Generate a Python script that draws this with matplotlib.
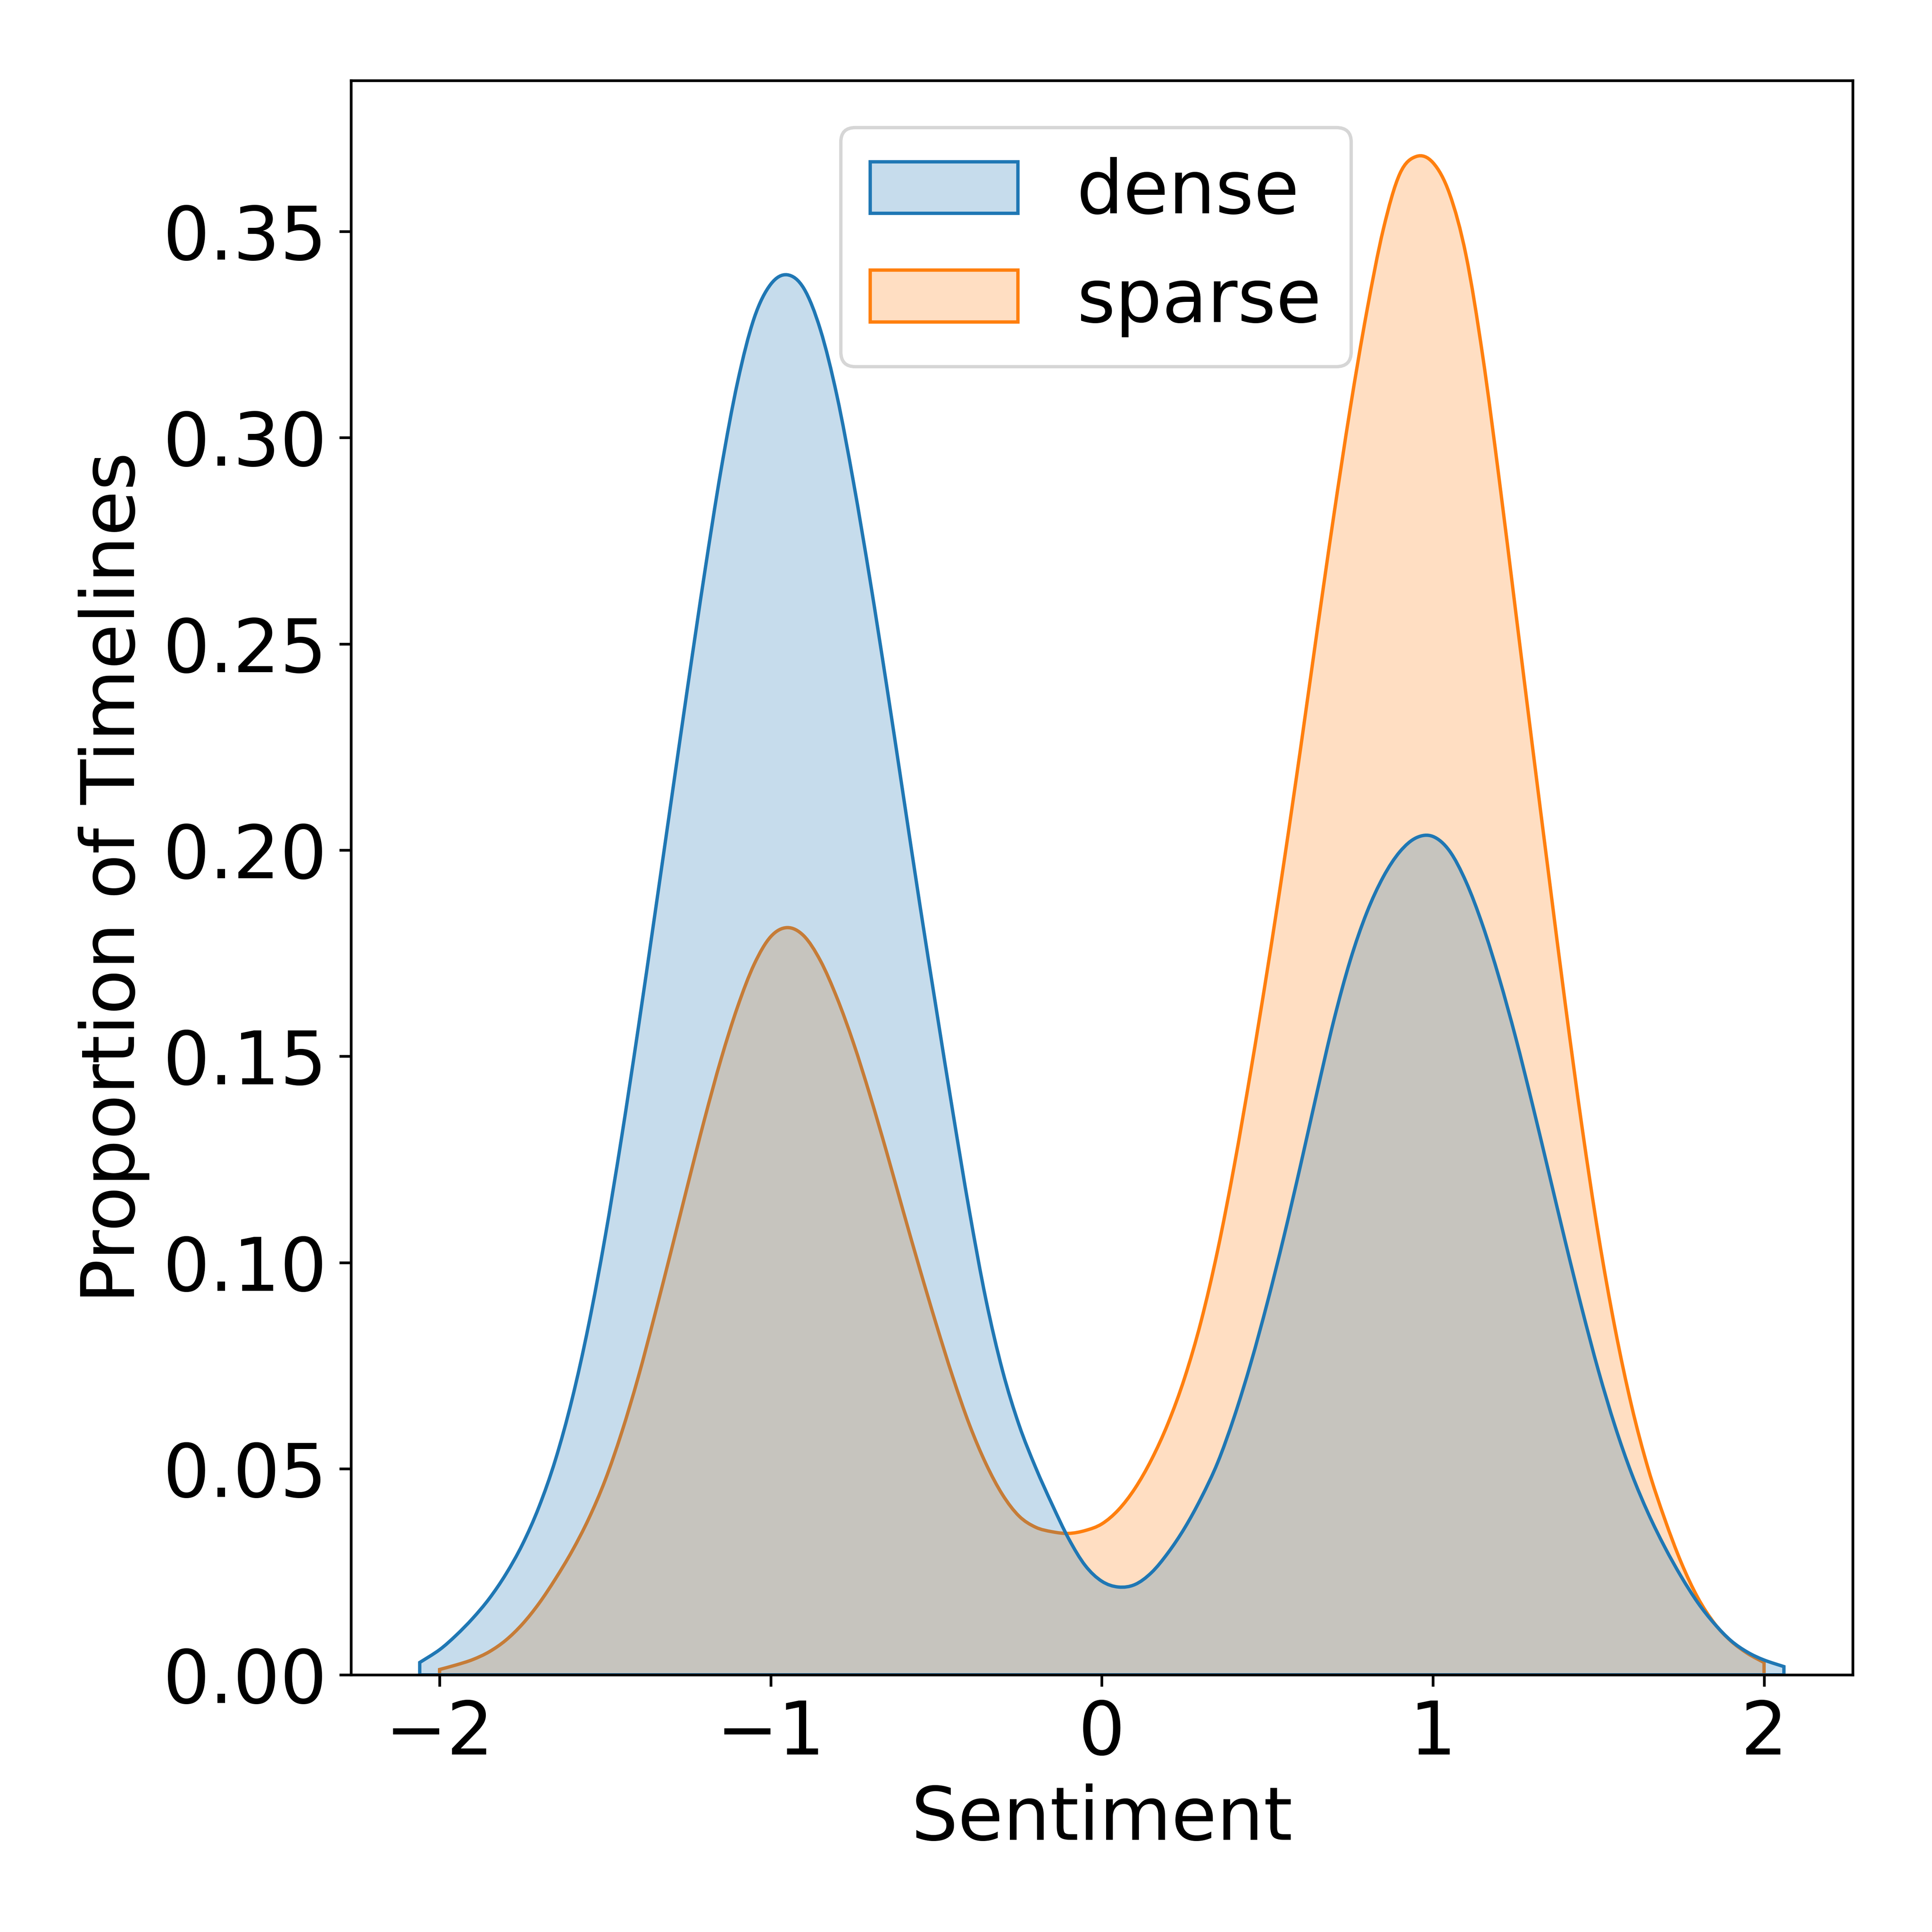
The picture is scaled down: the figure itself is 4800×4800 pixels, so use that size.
import matplotlib
matplotlib.use("Agg")
import matplotlib.pyplot as plt
from matplotlib.patches import Patch, PathPatch
from matplotlib.path import Path

# ── データ (図から読み取った密度曲線) ─────────────────────
DENSE_X = [-2.06, -2.00, -1.95, -1.90, -1.85, -1.80, -1.75, -1.70, -1.65, -1.60,
           -1.55, -1.50, -1.45, -1.40, -1.35, -1.30, -1.25, -1.20, -1.15, -1.10,
           -1.05, -1.00, -0.95, -0.90, -0.85, -0.80, -0.75, -0.70, -0.65, -0.60,
           -0.55, -0.50, -0.45, -0.40, -0.35, -0.30, -0.25, -0.20, -0.15, -0.10,
           -0.05, 0.00, 0.05, 0.10, 0.15, 0.20, 0.25, 0.30, 0.35, 0.40,
           0.45, 0.50, 0.55, 0.60, 0.65, 0.70, 0.75, 0.80, 0.85, 0.90,
           0.95, 1.00, 1.05, 1.10, 1.15, 1.20, 1.25, 1.30, 1.35, 1.40,
           1.45, 1.50, 1.55, 1.60, 1.65, 1.70, 1.75, 1.80, 1.85, 1.90,
           1.95, 2.00, 2.06]
DENSE_Y = [0.0030, 0.0061, 0.0096, 0.0137, 0.0185, 0.0244, 0.0316, 0.0407, 0.0522, 0.0668,
           0.0848, 0.1062, 0.1305, 0.1568, 0.1843, 0.2122, 0.2400, 0.2670, 0.2922, 0.3135,
           0.3290, 0.3372, 0.3395, 0.3362, 0.3262, 0.3102, 0.2892, 0.2655, 0.2400, 0.2135,
           0.1870, 0.1615, 0.1365, 0.1125, 0.0910, 0.0738, 0.0606, 0.0503, 0.0413, 0.0330,
           0.0265, 0.0227, 0.0213, 0.0219, 0.0248, 0.0296, 0.0356, 0.0429, 0.0515, 0.0626,
           0.0756, 0.0903, 0.1063, 0.1235, 0.1413, 0.1585, 0.1732, 0.1848, 0.1935, 0.1996,
           0.2030, 0.2033, 0.1998, 0.1923, 0.1818, 0.1690, 0.1545, 0.1385, 0.1218, 0.1050,
           0.0888, 0.0737, 0.0603, 0.0488, 0.0392, 0.0310, 0.0238, 0.0175, 0.0124, 0.0083,
           0.0055, 0.0036, 0.0020]

SPARSE_X = [-2.00, -1.95, -1.90, -1.85, -1.80, -1.75, -1.70, -1.65, -1.60,
            -1.55, -1.50, -1.45, -1.40, -1.35, -1.30, -1.25, -1.20, -1.15, -1.10,
            -1.05, -1.00, -0.95, -0.90, -0.85, -0.80, -0.75, -0.70, -0.65, -0.60,
            -0.55, -0.50, -0.45, -0.40, -0.35, -0.30, -0.25, -0.20, -0.15, -0.10,
            -0.05, 0.00, 0.05, 0.10, 0.15, 0.20, 0.25, 0.30, 0.35, 0.40,
            0.45, 0.50, 0.55, 0.60, 0.65, 0.70, 0.75, 0.80, 0.85, 0.90,
            0.95, 1.00, 1.05, 1.10, 1.15, 1.20, 1.25, 1.30, 1.35, 1.40,
            1.45, 1.50, 1.55, 1.60, 1.65, 1.70, 1.75, 1.80, 1.85, 1.90,
            1.95, 2.00]
SPARSE_Y = [0.0013, 0.0024, 0.0037, 0.0056, 0.0084, 0.0123, 0.0173, 0.0233, 0.0300,
            0.0378, 0.0472, 0.0588, 0.0722, 0.0873, 0.1030, 0.1190, 0.1347, 0.1493, 0.1620,
            0.1723, 0.1790, 0.1812, 0.1792, 0.1732, 0.1642, 0.1532, 0.1405, 0.1268, 0.1125,
            0.0985, 0.0850, 0.0722, 0.0607, 0.0512, 0.0437, 0.0385, 0.0358, 0.0347, 0.0343,
            0.0350, 0.0366, 0.0400, 0.0452, 0.0522, 0.0610, 0.0720, 0.0858, 0.1030, 0.1235,
            0.1465, 0.1710, 0.1970, 0.2245, 0.2530, 0.2808, 0.3070, 0.3305, 0.3505, 0.3640,
            0.3682, 0.3667, 0.3592, 0.3442, 0.3200, 0.2900, 0.2578, 0.2255, 0.1938, 0.1625,
            0.1330, 0.1065, 0.0840, 0.0652, 0.0500, 0.0378, 0.0272, 0.0187, 0.0125, 0.0082,
            0.0052, 0.0030]

LABELS = ['dense', 'sparse']
COLORS = ['#1f77b4', '#ff7f0e']
FILLS = [(0.122, 0.467, 0.706, 0.25), (1.0, 0.498, 0.055, 0.25)]


def density_patch(xs, ys, face, edge):
    """読み取り点を滑らかに結んだ塗りつぶし領域 (ベジェ曲線)"""
    pts = list(zip(xs, ys))
    n = len(pts)
    verts = [(xs[0], 0.0), pts[0]]
    codes = [Path.MOVETO, Path.LINETO]
    for i in range(n - 1):
        p0 = pts[i - 1] if i > 0 else pts[i]
        p1, p2 = pts[i], pts[i + 1]
        p3 = pts[i + 2] if i + 2 < n else pts[i + 1]
        c1 = (p1[0] + (p2[0] - p0[0]) / 6, p1[1] + (p2[1] - p0[1]) / 6)
        c2 = (p2[0] - (p3[0] - p1[0]) / 6, p2[1] - (p3[1] - p1[1]) / 6)
        verts += [c1, c2, p2]
        codes += [Path.CURVE4] * 3
    verts += [(xs[-1], 0.0), (xs[0], 0.0)]
    codes += [Path.LINETO, Path.CLOSEPOLY]
    return PathPatch(Path(verts, codes), facecolor=face, edgecolor=edge, linewidth=1.0)


# ── 描画 ────────────────────────────────────────────────
plt.rcParams['font.size'] = 22

fig, ax = plt.subplots(figsize=(8, 8), dpi=600)
fig.subplots_adjust(left=0.1816, right=0.959, bottom=0.1331, top=0.9583)

# sparse を先に、dense を上に重ねる
ax.add_patch(density_patch(SPARSE_X, SPARSE_Y, FILLS[1], COLORS[1]))
ax.add_patch(density_patch(DENSE_X, DENSE_Y, FILLS[0], COLORS[0]))

ax.set_xlim(-2.268, 2.268)
ax.set_ylim(0, 0.3866)
ax.set_xticks([-2, -1, 0, 1, 2])
ax.set_xlabel('Sentiment')
ax.set_ylabel('Proportion of Timelines')

handles = [Patch(facecolor=FILLS[0], edgecolor=COLORS[0], linewidth=1.0),
           Patch(facecolor=FILLS[1], edgecolor=COLORS[1], linewidth=1.0)]
ax.legend(handles, LABELS, loc='upper center', bbox_to_anchor=(0.496, 0.9937))

fig.savefig('out.png', dpi=600, facecolor='white')
